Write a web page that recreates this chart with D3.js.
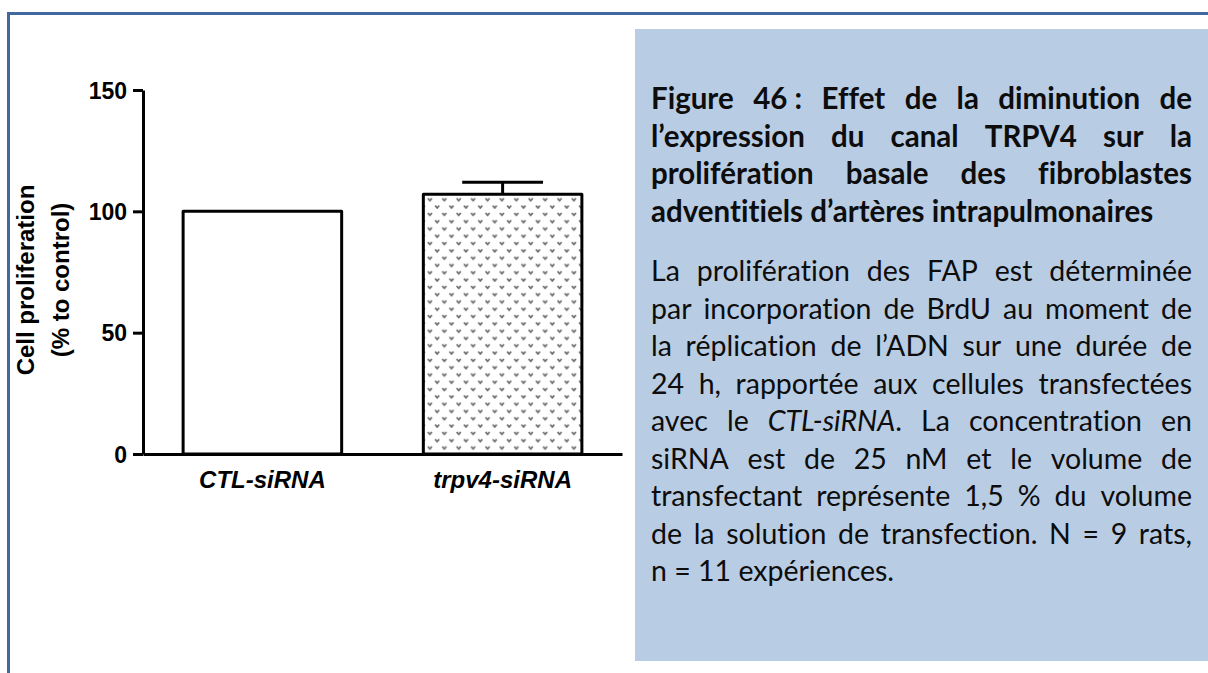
<!DOCTYPE html>
<html>
<head>
<meta charset="utf-8">
<script src="https://cdn.jsdelivr.net/npm/d3@7"></script>
<style>
  html, body { margin: 0; padding: 0; background: #ffffff; }
  svg { display: block; }
</style>
</head>
<body>
<svg id="fig" width="1208" height="673"></svg>
<script>
// ---- data ----
const categories = ["CTL-siRNA", "trpv4-siRNA"];
const meanValues = [100, 107];
const semValues = [0, 5];
const yTickValues = [0, 50, 100, 150];
const yLabelLines = ["Cell proliferation", "(% to control)"];

// caption text; words wrapped in _..._ are set in italics
const titleLines = [
  "Figure 46\u00A0: Effet de la diminution de",
  "l’expression du canal TRPV4 sur la",
  "prolifération basale des fibroblastes",
  "adventitiels d’artères intrapulmonaires"
];
const bodyLines = [
  "La prolifération des FAP est déterminée",
  "par incorporation de BrdU au moment de",
  "la réplication de l’ADN sur une durée de",
  "24 h, rapportée aux cellules transfectées",
  "avec le _CTL-siRNA_. La concentration en",
  "siRNA est de 25 nM et le volume de",
  "transfectant représente 1,5 % du volume",
  "de la solution de transfection. N = 9 rats,",
  "n = 11 expériences."
];

const svg = d3.select("#fig");
const frameBlue = "#41699f";

// ---- page frame ----
svg.append("line").attr("x1", 7).attr("x2", 1208).attr("y1", 13.5).attr("y2", 13.5)
  .attr("stroke", frameBlue).attr("stroke-width", 3);
svg.append("line").attr("x1", 8.5).attr("x2", 8.5).attr("y1", 12).attr("y2", 673)
  .attr("stroke", frameBlue).attr("stroke-width", 3);

// ---- bar chart ----
const axisFont = "'Liberation Sans', Arial, sans-serif";
const y = d3.scaleLinear().domain([0, 150]).range([454, 90]);
const x = d3.scaleBand().domain(categories).range([143, 622])
  .paddingInner(0.34).paddingOuter(0.167);

// dotted fill used for the knock-down bar
const defs = svg.append("defs");
const pat = defs.append("pattern").attr("id", "dots")
  .attr("patternUnits", "userSpaceOnUse")
  .attr("width", 14.4).attr("height", 14.6)
  .attr("x", x("trpv4-siRNA") + 4).attr("y", y(meanValues[1]) + 3);
pat.append("rect").attr("width", 14.4).attr("height", 14.6).attr("fill", "#ffffff");
[[0, 0], [7.2, 7.3]].forEach(([dx, dy]) => {
  pat.append("path")
    .attr("d", `M${dx + 0.6},${dy + 1} L${dx + 2.6},${dy + 3.4} L${dx + 4.6},${dy + 1}`)
    .attr("fill", "none").attr("stroke", "#6e6e6e").attr("stroke-width", 1.8)
    .attr("stroke-linejoin", "round");
});

const chart = svg.append("g");

chart.selectAll("rect.bar")
  .data(categories)
  .join("rect")
  .attr("class", "bar")
  .attr("x", d => x(d))
  .attr("width", x.bandwidth())
  .attr("y", (d, i) => y(meanValues[i]))
  .attr("height", (d, i) => y(0) - y(meanValues[i]))
  .attr("fill", (d, i) => i === 0 ? "#ffffff" : "url(#dots)")
  .attr("stroke", "#000").attr("stroke-width", 3)
  .attr("stroke-linejoin", "round");

// upper SEM bars
const capHalf = x.bandwidth() * 0.255;
categories.forEach((c, i) => {
  if (semValues[i] <= 0) return;
  const cx = x(c) + x.bandwidth() / 2;
  chart.append("line").attr("x1", cx).attr("x2", cx)
    .attr("y1", y(meanValues[i])).attr("y2", y(meanValues[i] + semValues[i]))
    .attr("stroke", "#000").attr("stroke-width", 3);
  chart.append("line").attr("x1", cx - capHalf).attr("x2", cx + capHalf)
    .attr("y1", y(meanValues[i] + semValues[i])).attr("y2", y(meanValues[i] + semValues[i]))
    .attr("stroke", "#000").attr("stroke-width", 3);
});

// y axis
const yAxis = chart.append("g").attr("transform", "translate(143,0)")
  .call(d3.axisLeft(y).tickValues(yTickValues).tickFormat(d3.format("d"))
    .tickSize(10).tickSizeOuter(0).tickPadding(6));
yAxis.select(".domain").attr("stroke", "#000").attr("stroke-width", 3);
yAxis.selectAll(".tick line").attr("stroke", "#000").attr("stroke-width", 3);
yAxis.selectAll(".tick text").attr("fill", "#000")
  .style("font-family", axisFont).style("font-weight", "bold").style("font-size", "23px")
  .attr("dy", "0.36em");

// x axis
const xAxis = chart.append("g").attr("transform", "translate(0,454)")
  .call(d3.axisBottom(x).tickSize(0).tickSizeOuter(0).tickPadding(17));
xAxis.select(".domain").attr("stroke", "#000").attr("stroke-width", 3);
xAxis.selectAll(".tick text").attr("fill", "#000")
  .style("font-family", axisFont).style("font-weight", "bold")
  .style("font-style", "italic").style("font-size", "24px");

// y axis title
yLabelLines.forEach((t, i) => {
  svg.append("text")
    .attr("transform", `translate(${34 + i * 35},280) rotate(-90)`)
    .attr("text-anchor", "middle")
    .style("font-family", axisFont).style("font-weight", "bold").style("font-size", "24px")
    .attr("fill", "#000")
    .text(t);
});

// ---- caption box ----
svg.append("rect").attr("x", 635).attr("y", 29).attr("width", 573).attr("height", 632)
  .attr("fill", "#b8cce4");

const capFont = "Lato, 'Open Sans', sans-serif";

function drawJustified(lines, opts) {
  const g = svg.append("g")
    .style("font-family", capFont)
    .style("font-size", opts.size + "px")
    .style("font-weight", opts.weight)
    .style("font-variant-ligatures", "none")
    .attr("fill", "#0d0d0d");
  const probe = g.append("text").attr("x", -1000).attr("y", -1000);
  const measure = s => { probe.text(s); return probe.node().getComputedTextLength(); };
  const spaceW = measure("a a") - measure("aa");
  probe.remove();

  lines.forEach((line, li) => {
    const words = line.split(" ");
    const nodes = words.map(w => {
      const t = g.append("text").attr("y", opts.y0 + li * opts.lh);
      w.split("_").forEach((seg, k) => {
        if (!seg) return;
        t.append("tspan").style("font-style", k % 2 ? "italic" : "normal").text(seg);
      });
      return t;
    });
    const widths = nodes.map(n => n.node().getComputedTextLength());
    const total = d3.sum(widths);
    const last = li === lines.length - 1;
    const gap = (!last && words.length > 1) ? (opts.width - total) / (words.length - 1) : spaceW;
    let cx = opts.x;
    nodes.forEach((n, k) => { n.attr("x", cx); cx += widths[k] + gap; });
  });
}

drawJustified(titleLines, { x: 651, width: 541, y0: 109, lh: 37.6, size: 29.5, weight: "bold" });
drawJustified(bodyLines, { x: 651, width: 541, y0: 281, lh: 37.5, size: 28.5, weight: "normal" });
</script>
</body>
</html>
